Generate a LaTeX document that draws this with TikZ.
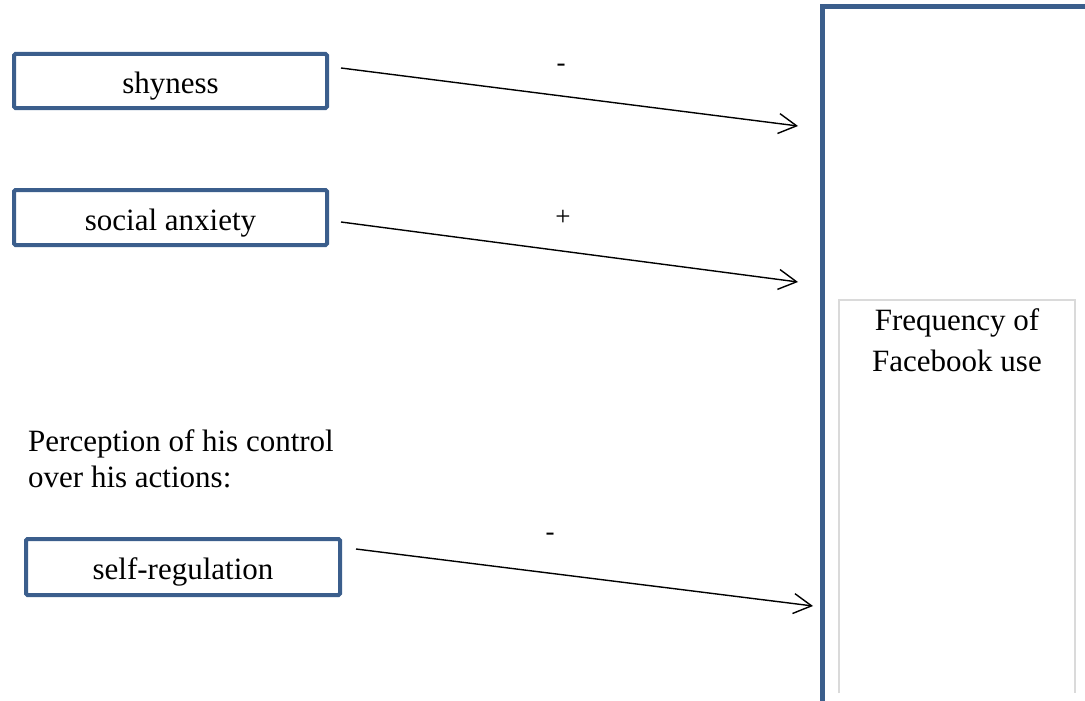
\documentclass[tikz,border=0pt]{standalone}
\usepackage{fontspec}
\setmainfont{Liberation Serif}
\usetikzlibrary{arrows.meta}
\definecolor{boxblue}{HTML}{3B5E8C}
\definecolor{panelgray}{HTML}{DADADA}
\tikzset{
  varbox/.style={draw=boxblue, line width=4pt, rounded corners=1.5pt, inner sep=0pt,
    text height=25pt, text depth=0pt, font=\fontsize{31}{36}\selectfont},
  effect/.style={line width=1.4pt, -{Straight Barb[length=18pt,width=20pt]}},
  sign/.style={font=\fontsize{27}{30}\selectfont, inner sep=0pt}
}

\begin{document}
\begin{tikzpicture}[x=1pt, y=-1pt]
\useasboundingbox (0,0) rectangle (1085,701);
\node (shy) at (170.5,81) [varbox, minimum width=313, minimum height=54] {shyness};
\node (anx) at (170.5,217.5) [varbox, minimum width=313, minimum height=55] {social anxiety};
\node (selfreg) at (183,567) [varbox, minimum width=314, minimum height=56] {self-regulation};
\node (percep) at (28,459) [anchor=west, align=left, inner sep=0pt, font=\fontsize{31}{36}\selectfont] {Perception of his control\\over his actions:};
\draw [boxblue, line width=5pt, line join=miter] (822,701) -- (822,7) -- (1085,7);
\draw [panelgray, line width=1.5pt] (839,693) -- (839,300) -- (1075,300) -- (1075,693);
\node (freq) at (957,340) [align=center, inner sep=0pt, font=\fontsize{31}{41}\selectfont] {Frequency of\\Facebook use};
\coordinate (shyout) at (341,68);
\coordinate (shyin) at (798,126);
\coordinate (anxout) at (341,222);
\coordinate (anxin) at (798,282);
\coordinate (regout) at (356,549);
\coordinate (regin) at (813,606);
\draw [effect] (shyout) -- (shyin);
\draw [effect] (anxout) -- (anxin);
\draw [effect] (regout) -- (regin);
\node (shysign) at (561,68) [sign] {-};
\node (anxsign) at (563,218) [sign] {+};
\node (regsign) at (550,537) [sign] {-};
\end{tikzpicture}
\end{document}
